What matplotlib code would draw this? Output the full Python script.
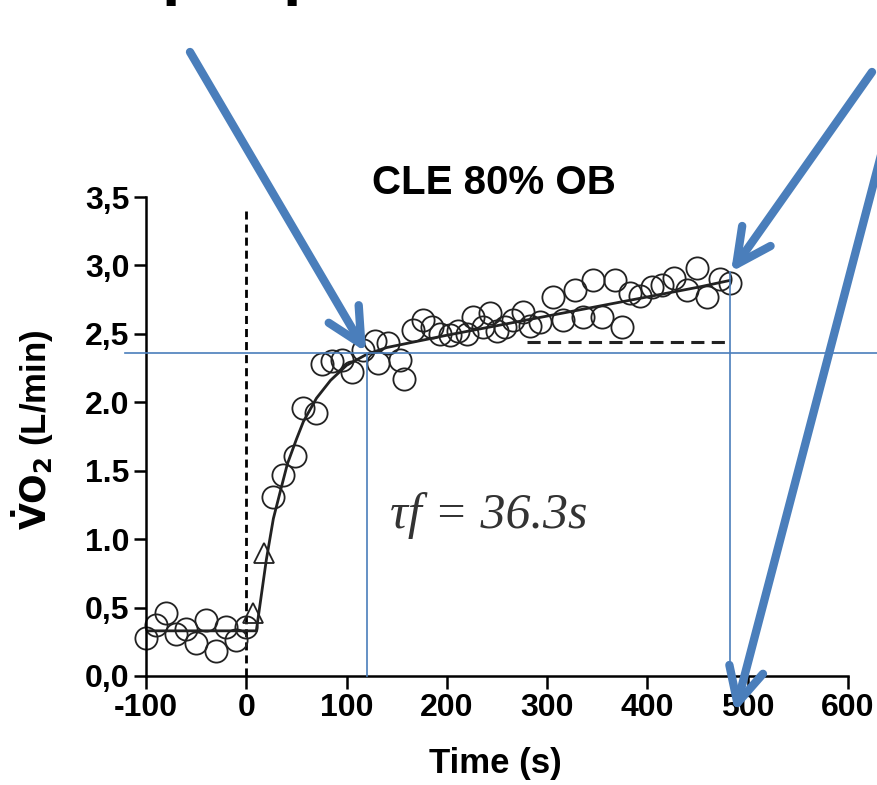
import numpy as np
import matplotlib.pyplot as plt

plt.rcParams['font.family'] = ['Liberation Sans', 'DejaVu Sans']
plt.rcParams['font.weight'] = 'bold'
plt.rcParams['axes.labelweight'] = 'bold'
plt.rcParams['axes.unicode_minus'] = False
plt.rcParams['mathtext.fontset'] = 'dejavusans'

'~~~~~~~~~~ DATA READ FROM THE FIGURE ~~~~~~~~~~'
# breath averaged VO2 (open circles)
t_circ = [-100, -90, -80, -70, -60, -50, -40, -30, -20, -10, 0,
          27, 37, 49, 57, 70, 75, 85, 95, 105, 116, 128, 131, 141, 153, 157,
          166, 176, 185, 193, 203, 211, 220, 226, 236, 243, 250, 258, 266, 276, 283, 293,
          306, 316, 328, 336, 346, 355, 368, 375, 383, 393, 405, 415, 426, 439, 449, 459, 472, 482]
v_circ = [0.28, 0.37, 0.46, 0.31, 0.34, 0.24, 0.41, 0.18, 0.36, 0.26, 0.36,
          1.31, 1.47, 1.61, 1.96, 1.92, 2.28, 2.30, 2.31, 2.22, 2.38, 2.45, 2.29, 2.43, 2.31, 2.17,
          2.53, 2.60, 2.55, 2.50, 2.49, 2.52, 2.50, 2.62, 2.55, 2.65, 2.52, 2.55, 2.60, 2.66, 2.56, 2.59,
          2.77, 2.60, 2.82, 2.62, 2.89, 2.62, 2.89, 2.55, 2.80, 2.78, 2.84, 2.86, 2.91, 2.82, 2.98, 2.77, 2.90, 2.87]
# cardiodynamic phase (triangles)
t_tri = [7, 18]
v_tri = [0.46, 0.90]
# model fit
t_fit = [-100, 10, 20, 27, 35, 41, 50, 57, 70, 84, 100, 120, 140, 160, 180, 200,
         250, 300, 350, 400, 450, 482]
v_fit = [0.33, 0.33, 0.85, 1.15, 1.38, 1.55, 1.73, 1.86, 2.03, 2.16, 2.27, 2.35, 2.40, 2.43, 2.46, 2.49,
         2.56, 2.63, 2.70, 2.77, 2.84, 2.89]
# end of primary component (dashed)
t_slow = [280, 477]
v_slow = [2.44, 2.44]
# exercise onset
t_onset = [0, 0]
v_onset = [0, 3.40]

xticks = [-100, 0, 100, 200, 300, 400, 500, 600]
yticks = [0, 0.5, 1.0, 1.5, 2.0, 2.5, 3.0, 3.5]
ytick_labels = ['0,0', '0,5', '1.0', '1.5', '2.0', '2,5', '3,0', '3,5']

blue = '#4a7ebb'
W, H = 877, 785

fig = plt.figure(figsize=(W / 100, H / 100), dpi=100)
ax = fig.add_axes([146 / W, 1 - 676 / H, 702 / W, 479 / H])

ax.plot(t_onset, v_onset, color='k', lw=2.0, linestyle=(0, (2.9, 1.8)))
ax.plot(t_slow, v_slow, color='#222222', lw=2.2, linestyle=(0, (4.3, 2.4)))
ax.plot(t_fit, v_fit, color='#222222', lw=2.0)
ax.plot(t_circ, v_circ, 'o', ms=16, mfc='none', mec='#222222', mew=1.3, clip_on=False)
ax.plot(t_tri, v_tri, '^', ms=15, mfc='none', mec='#222222', mew=1.3)

ax.set_xlim(-100, 600)
ax.set_ylim(0, 3.5)
ax.set_xticks(xticks)
ax.set_yticks(yticks)
ax.set_yticklabels(ytick_labels)
for s in ['top', 'right']:
    ax.spines[s].set_visible(False)
for s in ['left', 'bottom']:
    ax.spines[s].set_linewidth(1.8)
ax.tick_params(width=1.8, length=9, labelsize=23, pad=3)

ax.set_xlabel('Time (s)', fontsize=25, weight='bold')
ax.xaxis.set_label_coords(0.497, -0.148)
ax.set_ylabel(r'$\mathbf{\dot{V}O_2}$ (L/min)', fontsize=25, weight='bold')
ax.yaxis.set_label_coords(-0.128, 0.514)
ax.text(0.496, 1.029, 'CLE 80% OB', transform=ax.transAxes, ha='center', va='center',
        fontsize=29, weight='bold')

'------------------ OVERLAY (pixel coordinates) ------------------'
ov = fig.add_axes([0, 0, 1, 1], zorder=5)
ov.set_xlim(0, W)
ov.set_ylim(H, 0)
ov.axis('off')
ov.patch.set_alpha(0)

ov.text(390, 528, '\u03c4f = 36.3s', fontsize=36, style='italic', weight='normal',
        family=['Liberation Serif', 'DejaVu Serif'], color='#333333', va='baseline')

# thin guide lines
ov.plot([125, W], [353, 353], color=blue, lw=1.2)
ov.plot([367, 367], [353, 676], color=blue, lw=1.2)
ov.plot([730, 730], [272, 676], color=blue, lw=1.2)

# cut-off heading at the top
for x in [162, 283]:
    ov.text(x, -8, 'p', fontsize=48, weight='bold', va='baseline', color='k')

arrows = [((190, 52), (366, 352)), ((872, 72), (731, 272)), ((885, 140), (735, 712))]
for start, tip in arrows:
    ov.annotate('', xy=tip, xytext=start,
                arrowprops=dict(arrowstyle='->,head_length=1.0,head_width=0.5', lw=6, color=blue,
                                mutation_scale=25, capstyle='round', joinstyle='round',
                                shrinkA=0, shrinkB=0))

plt.savefig('out.png', dpi=100)
